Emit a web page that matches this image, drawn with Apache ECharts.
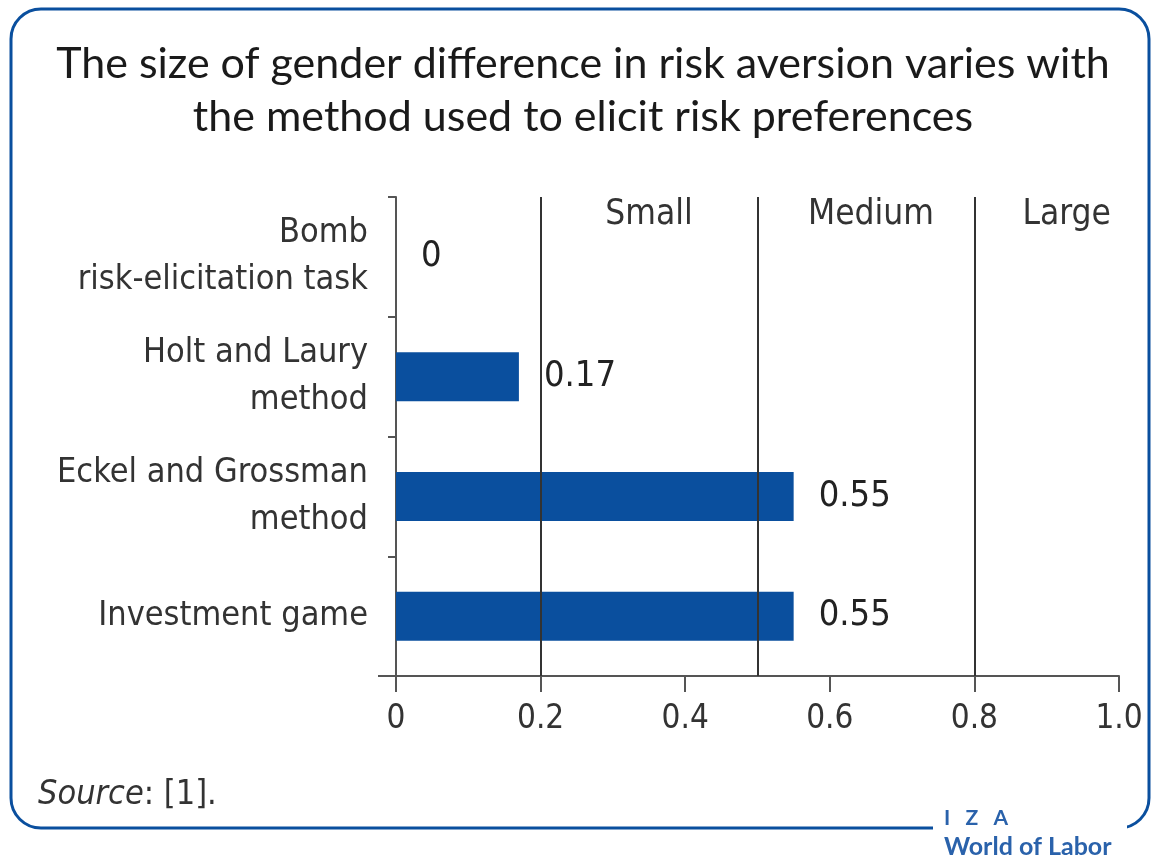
<!DOCTYPE html>
<html>
<head>
<meta charset="utf-8">
<style>
  html, body { margin: 0; padding: 0; background: #fff; }
  #chart { width: 1151px; height: 856px; }
</style>
<script src="https://cdn.jsdelivr.net/npm/echarts@6/dist/echarts.min.js"></script>
</head>
<body>
<div id="chart"></div>
<script>
// Elicitation methods, top to bottom
const methods = [
  'Bomb\nrisk-elicitation task',
  'Holt and Laury\nmethod',
  'Eckel and Grossman\nmethod',
  'Investment game'
];
// Size of the gender difference (effect size)
const effectSizes = [0, 0.17, 0.55, 0.55];
// Effect-size bands: Small / Medium / Large
const bandNames = ['Small', 'Medium', 'Large'];
const bandRanges = [[0.2, 0.5], [0.5, 0.8], [0.8, 1.0]];
const thresholds = [0.2, 0.5, 0.8];
// Horizontal axis ticks
const xTickLabels = ['0', '0.2', '0.4', '0.6', '0.8', '1.0'];

const NARROW = '"Liberation Sans Narrow", "DejaVu Sans Condensed", "Liberation Sans", sans-serif';
const TITLE_FONT = 'Lato, "Liberation Sans", sans-serif';
const BLUE = '#0a4f9e';
const TITLE = 'The size of gender difference in risk aversion varies with\nthe method used to elicit risk preferences';

const chart = echarts.init(document.getElementById('chart'));

chart.setOption({
  animation: false,
  backgroundColor: '#fff',
  grid: { left: 396, right: 32, top: 197, bottom: 180 },
  xAxis: {
    type: 'value',
    min: 0,
    max: 1,
    interval: 0.2,
    axisLine: { show: true, lineStyle: { color: '#555', width: 2 } },
    axisTick: { show: true, length: 16, lineStyle: { color: '#555', width: 2 } },
    splitLine: { show: false },
    axisLabel: {
      margin: 27,
      fontFamily: NARROW,
      fontSize: 33,
      color: '#333',
      formatter: (v) => xTickLabels[Math.round(v / 0.2)]
    }
  },
  yAxis: {
    type: 'category',
    inverse: true,
    data: methods,
    axisLine: { show: true, lineStyle: { color: '#555', width: 2 } },
    axisTick: { show: true, length: 8, interval: 0, lineStyle: { color: '#555', width: 2 } },
    axisLabel: {
      margin: 28,
      fontFamily: NARROW,
      fontSize: 34,
      lineHeight: 47,
      color: '#333',
      align: 'right'
    }
  },
  series: [{
    type: 'bar',
    data: effectSizes,
    barWidth: 49,
    itemStyle: { color: BLUE },
    label: {
      show: true,
      position: 'right',
      distance: 25,
      fontFamily: NARROW,
      fontSize: 36,
      color: '#222',
      formatter: (p) => String(p.value)
    },
    markLine: {
      symbol: 'none',
      silent: true,
      label: { show: false },
      lineStyle: { color: '#333', width: 2, type: 'solid' },
      data: thresholds.map((t) => ({ xAxis: t }))
    },
    markArea: {
      silent: true,
      itemStyle: { color: 'rgba(0,0,0,0)' },
      label: {
        position: 'insideTop',
        distance: 0,
        fontFamily: NARROW,
        fontSize: 35,
        color: '#333'
      },
      data: bandRanges.map((r, i) => [
        { xAxis: r[0], name: bandNames[i],
          label: i === 2 ? { offset: [20, 0] } : (i === 1 ? { offset: [5, 0] } : undefined) },
        { xAxis: r[1] }
      ])
    }
  }],
  graphic: [
    // rounded frame
    {
      type: 'rect',
      shape: { x: 11, y: 9, width: 1138, height: 819, r: 30 },
      style: { fill: 'none', stroke: BLUE, lineWidth: 3 },
      z: -1
    },
    // gap in the frame for the logo
    {
      type: 'rect',
      shape: { x: 933, y: 818, width: 194, height: 20 },
      style: { fill: '#fff' },
      z: 0
    },
    // x-axis baseline runs a little past zero
    {
      type: 'line',
      shape: { x1: 378, y1: 676, x2: 397, y2: 676 },
      style: { stroke: '#555', lineWidth: 2 },
      z: 5
    },
    {
      type: 'text',
      x: 583, y: 38,
      style: {
        text: TITLE,
        align: 'center',
        fontFamily: TITLE_FONT,
        fontSize: 43,
        lineHeight: 53,
        fill: '#1a1a1a'
      }
    },
    {
      type: 'text',
      left: 38, top: 778,
      style: {
        rich: {
          i: { fontFamily: NARROW, fontStyle: 'italic', fontSize: 34, fill: '#333' },
          n: { fontFamily: NARROW, fontSize: 34, fill: '#333' }
        },
        text: '{i|Source}{n|: [1].}'
      }
    },
    {
      type: 'text',
      left: 944, top: 808,
      style: { text: 'I   Z   A', fontFamily: 'Lato, sans-serif', fontWeight: 'bold', fontSize: 21, fill: '#2a62ab' },
      z: 2
    },
    {
      type: 'text',
      left: 944, top: 834,
      style: { text: 'World of Labor', fontFamily: 'Lato, sans-serif', fontWeight: 'bold', fontSize: 25, fill: '#2a62ab' },
      z: 2
    }
  ]
});
</script>
</body>
</html>
